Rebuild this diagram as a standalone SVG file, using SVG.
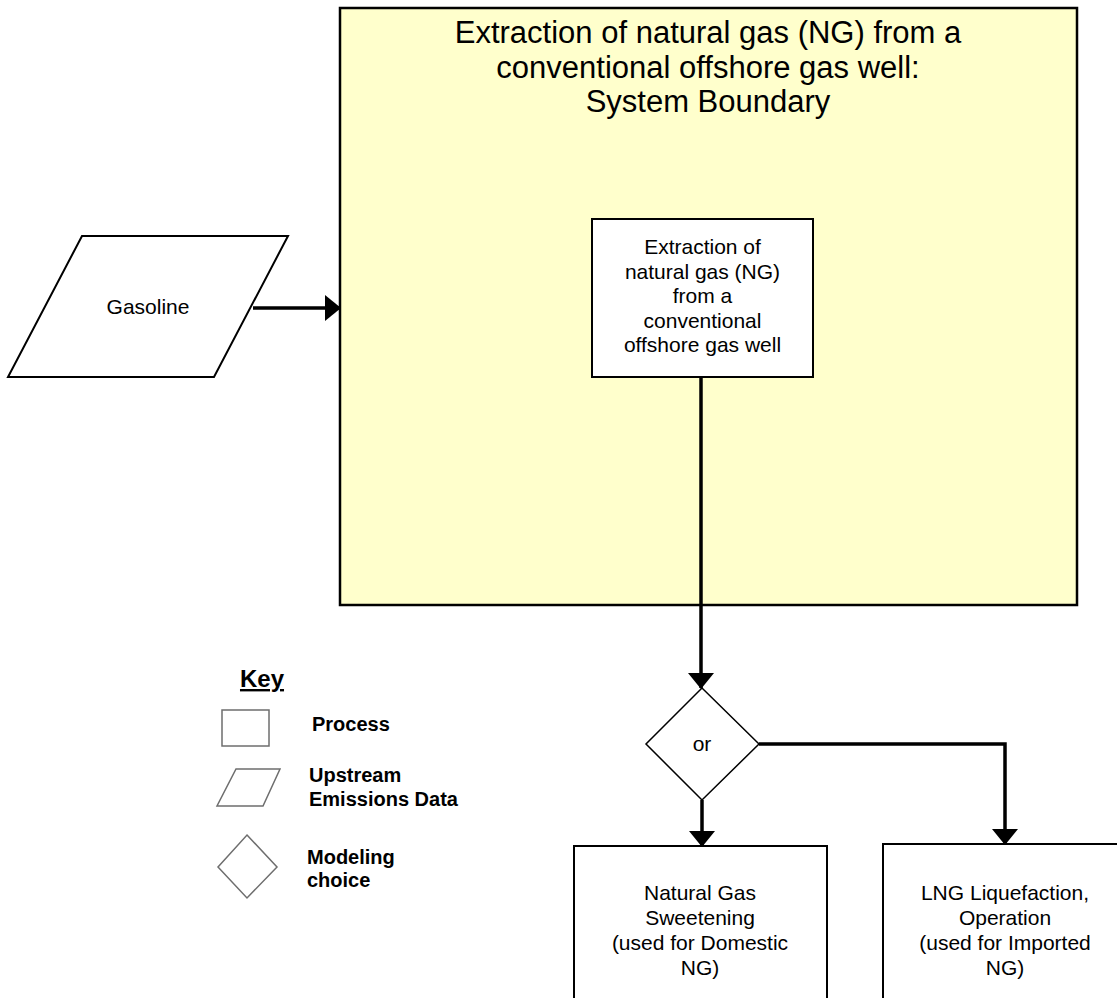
<svg xmlns="http://www.w3.org/2000/svg" width="1117" height="998" viewBox="0 0 1117 998">
<style>
.t{font-family:"Liberation Sans",Arial,sans-serif;fill:#000;text-anchor:middle}
.n{font-size:21px}
.title{font-size:31px}
.k{font-family:"Liberation Sans",Arial,sans-serif;font-weight:bold;font-size:20px;fill:#000}
.box{fill:#fff;stroke:#000;stroke-width:2}
.keyshape{fill:#fff;stroke:#6e6e6e;stroke-width:1.5}
.conn{fill:none;stroke:#000;stroke-width:3.5}
</style>
<defs>
<marker id="arr" markerUnits="userSpaceOnUse" markerWidth="16" markerHeight="26" viewBox="0 0 16 26" refX="15" refY="13" orient="auto">
<path d="M0,0 L16,13 L0,26 z" fill="#000"/>
</marker>
</defs>
<rect width="1117" height="998" fill="#fff"/>
<g id="system-boundary">
<rect x="340" y="8" width="737" height="597" fill="#ffffcc" stroke="#000" stroke-width="2.5"/>
<text class="t title" x="708" y="43">Extraction of natural gas (NG) from a</text>
<text class="t title" x="708" y="78">conventional offshore gas well:</text>
<text class="t title" x="708" y="112">System Boundary</text>
</g>
<g id="connectors">
<path class="conn" d="M253,308 L340,308" marker-end="url(#arr)"/>
<path class="conn" d="M701,377 L701,688" marker-end="url(#arr)"/>
<path class="conn" d="M702,800 L702,846" marker-end="url(#arr)"/>
<path class="conn" d="M759,744 L1005,744 L1005,844" marker-end="url(#arr)"/>
</g>
<g id="gasoline">
<polygon class="box" points="82,236 288,236 214,377 8,377"/>
<text class="t n" x="148" y="314">Gasoline</text>
</g>
<g id="extraction">
<rect class="box" x="592" y="219" width="221" height="158"/>
<text class="t n" x="702.5" y="254">Extraction of</text>
<text class="t n" x="702.5" y="278.5">natural gas (NG)</text>
<text class="t n" x="702.5" y="303">from a</text>
<text class="t n" x="702.5" y="327.5">conventional</text>
<text class="t n" x="702.5" y="352">offshore gas well</text>
</g>
<g id="choice">
<polygon fill="#fff" stroke="#000" stroke-width="1.5" points="702,688 759,744 702,800 646,744"/>
<text class="t n" x="702" y="751">or</text>
</g>
<g id="sweetening">
<rect class="box" x="574" y="846" width="253" height="200"/>
<text class="t n" x="700" y="900">Natural Gas</text>
<text class="t n" x="700" y="925">Sweetening</text>
<text class="t n" x="700" y="950">(used for Domestic</text>
<text class="t n" x="700" y="975">NG)</text>
</g>
<g id="lng">
<rect class="box" x="883" y="844" width="250" height="200"/>
<text class="t n" x="1005" y="900">LNG Liquefaction,</text>
<text class="t n" x="1005" y="925">Operation</text>
<text class="t n" x="1005" y="950">(used for Imported</text>
<text class="t n" x="1005" y="975">NG)</text>
</g>
<g id="key">
<text class="t" x="262" y="687" font-size="24" font-weight="bold" text-decoration="underline">Key</text>
<rect class="keyshape" x="222" y="710" width="47" height="36"/>
<text class="k" x="312" y="731">Process</text>
<polygon class="keyshape" points="236,769 280,769 263,806 217,806"/>
<text class="k" x="309" y="782">Upstream</text>
<text class="k" x="309" y="806">Emissions Data</text>
<polygon class="keyshape" points="247,835 277,867 247,898 218,867"/>
<text class="k" x="307" y="864">Modeling</text>
<text class="k" x="307" y="887">choice</text>
</g>
</svg>
